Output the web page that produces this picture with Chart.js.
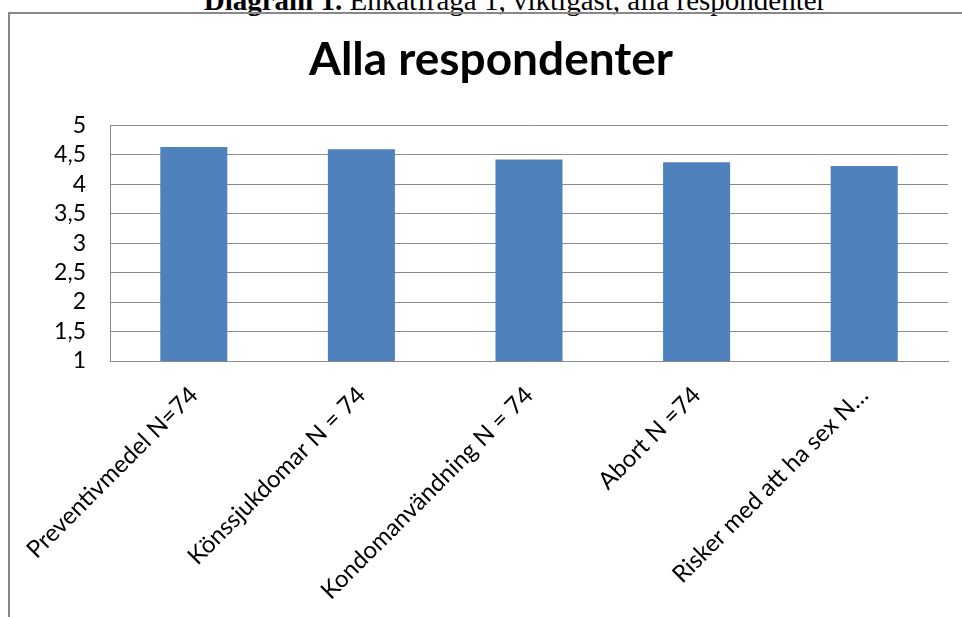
<!DOCTYPE html>
<html>
<head>
<meta charset="utf-8">
<script src="https://cdn.jsdelivr.net/npm/chart.js@4/dist/chart.umd.min.js"></script>
<style>
  html, body { margin: 0; padding: 0; background: #fff; overflow: hidden; }
  body { width: 962px; height: 617px; position: relative; }
  #caption {
    position: absolute; left: 0; width: 1030px; top: -14px;
    text-align: center; font-family: "Liberation Serif", "Times New Roman", serif;
    font-size: 29px; line-height: 29px; color: #000; white-space: nowrap;
  }
  #frame {
    position: absolute; left: 8px; top: 12px; width: 1000px; height: 700px;
    border-left: 2px solid #888; border-top: 2px solid #888;
  }
  #wrap { position: absolute; left: 10px; top: 14px; width: 952px; height: 603px; }
</style>
</head>
<body>
<div id="caption"><b>Diagram 1.</b> Enkätfråga 1, viktigast, alla respondenter</div>
<div id="frame"></div>
<div id="wrap"><canvas id="myChart" width="952" height="603"></canvas></div>
<script>
const categories = [
  "Preventivmedel N=74",
  "Könssjukdomar N = 74",
  "Kondomanvändning N = 74",
  "Abort N =74",
  "Risker med att ha sex N…"
];
const values = [4.63, 4.59, 4.42, 4.37, 4.31];
const yMin = 1;
const yMax = 5;
const yStep = 0.5;

document.addEventListener("DOMContentLoaded", () => {
  const ctx = document.getElementById("myChart").getContext("2d");
  const gridColor = "#8a8a8a";

  new Chart(ctx, {
    type: "bar",
    data: {
      labels: categories,
      datasets: [
        {
          label: "Alla respondenter",
          data: values,
          backgroundColor: "#4F81BD",
          borderWidth: 0,
          barPercentage: 0.4,
          categoryPercentage: 1.0,
        },
      ],
    },
    options: {
      responsive: false,
      animation: false,
      layout: { padding: { left: 24, right: 14, top: 0, bottom: 0 } },
      plugins: {
        legend: { display: false },
        tooltip: { enabled: false },
        title: {
          display: true,
          text: "Alla respondenter",
          color: "#000",
          font: { family: "Lato", size: 46, weight: "bold", lineHeight: 1.2 },
          padding: { top: 19, bottom: 37 },
        },
      },
      scales: {
        y: {
          min: yMin,
          max: yMax,
          afterFit: (scale) => { scale.width = 76; },
          ticks: {
            stepSize: yStep,
            autoSkip: false,
            color: "#000",
            padding: 24,
            font: { family: "Lato", size: 23, lineHeight: 1 },
            callback: (v) => String(v).replace(".", ","),
          },
          grid: { color: gridColor, drawTicks: false },
          border: { display: true, color: gridColor, width: 1 },
        },
        x: {
          afterFit: (scale) => {
            scale.height = 256;
            scale.paddingLeft = 0;
            scale.paddingRight = 0;
          },
          ticks: {
            color: "#000",
            autoSkip: false,
            minRotation: 45,
            maxRotation: 45,
            padding: 20,
            font: { family: "Lato", size: 24 },
          },
          grid: { display: false, drawTicks: false },
          border: { display: true, color: gridColor, width: 1 },
        },
      },
    },
  });
});
</script>
</body>
</html>
